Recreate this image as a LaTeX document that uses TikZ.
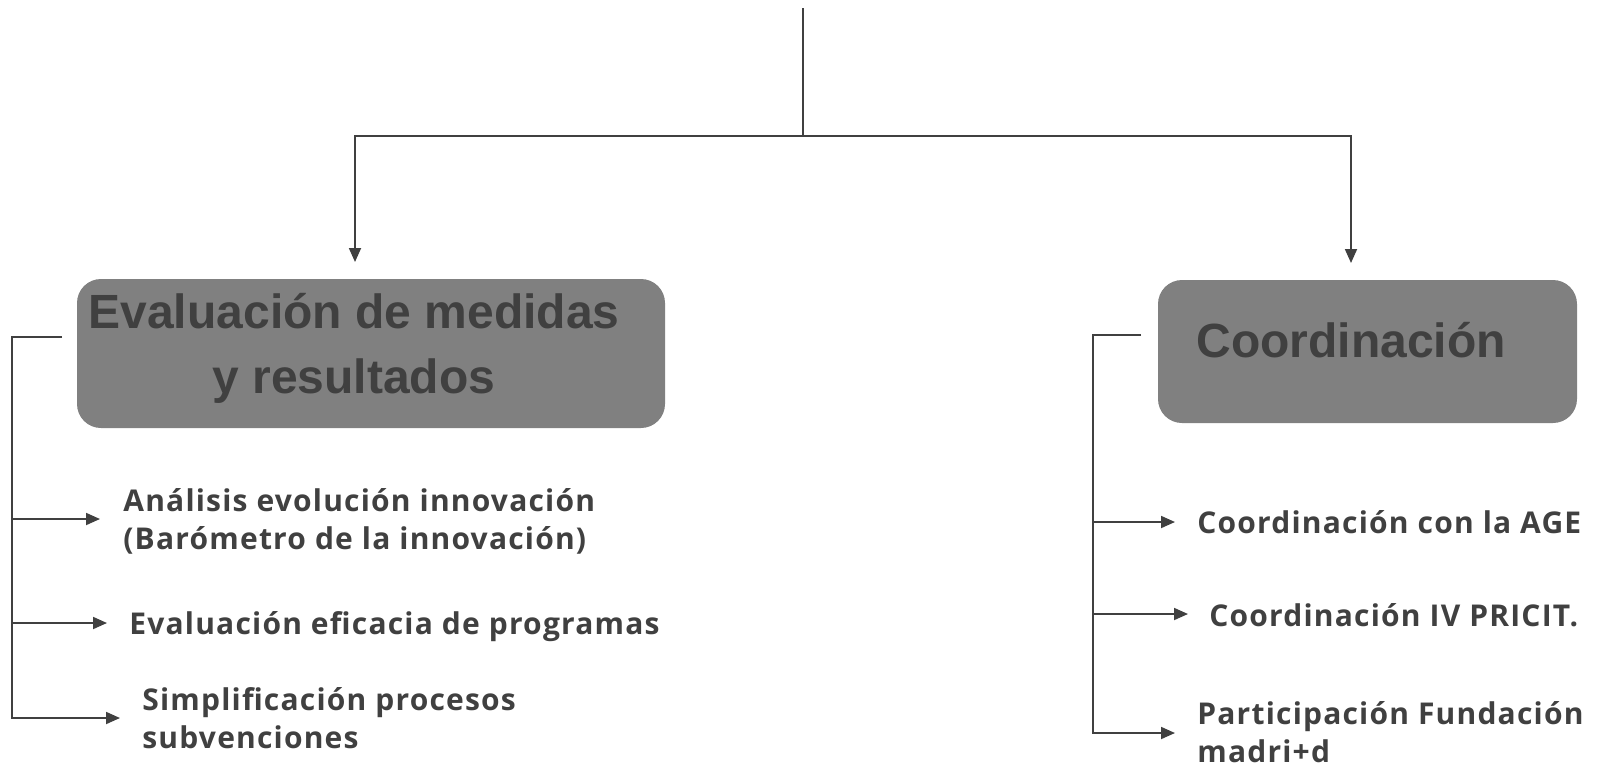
\documentclass[tikz,border=0pt]{standalone}
\usepackage{fontspec}
\setmainfont{Liberation Sans}
\newfontfamily\itemfont[LetterSpace=4]{Open Sans}
\usetikzlibrary{arrows.meta}
\definecolor{ink}{HTML}{404040}
\definecolor{boxgray}{HTML}{808080}
\begin{document}
\begin{tikzpicture}[x=0.5pt,y=-0.5pt,
  conn/.style={draw=ink, line width=0.9pt},
  arr/.style={conn, -{Triangle[length=7pt,width=6pt]}},
  box/.style={fill=boxgray, rounded corners=12pt, inner sep=0pt},
  boxtext/.style={text=ink, font=\bfseries\fontsize{24}{32.5}\selectfont, align=center, inner sep=0pt},
  item/.style={text=ink, font=\itemfont\bfseries\fontsize{15}{19}\selectfont, align=left, anchor=base west, inner sep=0pt}]
\useasboundingbox (0,0) rectangle (1612,767);

% boxes
\node[box, minimum width=294pt, minimum height=74.5pt] (evalbox) at (371,353.5) {};
\node[box, minimum width=209.5pt, minimum height=71.5pt] (coordbox) at (1367.5,351.5) {};
\node[boxtext, anchor=base] (evaltext) at (354,393) {Evaluación de medidas\\ y resultados};
\node[boxtext, anchor=base] (coordtext) at (1351,357) {Coordinación};

% top connectors
\coordinate (top) at (803,8);
\coordinate (junc) at (803,136);
\coordinate (ltip) at (355,262);
\coordinate (rtip) at (1351,263);
\draw[conn] (top) -- (junc);
\draw[arr] (junc) -| (ltip);
\draw[arr] (junc) -| (rtip);

% left items (base = last line baseline)
\node[item] (i1) at (123,549) {Análisis evolución innovación\\(Barómetro de la innovación)};
\node[item] (i2) at (129,634) {Evaluación eficacia de programas};
\node[item] (i3) at (142,748) {Simplificación procesos\\subvenciones};
\coordinate (lb) at (62,337);
\coordinate (lc) at (12,337);
\coordinate (la1) at (12,519);
\coordinate (la2) at (12,623);
\coordinate (la3) at (12,718);
\coordinate (lt1) at (100,519);
\coordinate (lt2) at (107,623);
\coordinate (lt3) at (120,718);
\draw[arr] (lb) -- (lc) -- (la3) -- (lt3);
\draw[arr] (la1) -- (lt1);
\draw[arr] (la2) -- (lt2);

% right items
\node[item] (j1) at (1197,533) {Coordinación con la AGE};
\node[item] (j2) at (1209,626) {Coordinación IV PRICIT.};
\node[item] (j3) at (1197,762) {Participación Fundación\\madri+d};
\coordinate (rb) at (1141,335);
\coordinate (rc) at (1093,335);
\coordinate (ra1) at (1093,522);
\coordinate (ra2) at (1093,614);
\coordinate (ra3) at (1093,733);
\coordinate (rt1) at (1175,522);
\coordinate (rt2) at (1188,614);
\coordinate (rt3) at (1175,733);
\draw[arr] (rb) -- (rc) -- (ra3) -- (rt3);
\draw[arr] (ra1) -- (rt1);
\draw[arr] (ra2) -- (rt2);
\end{tikzpicture}
\end{document}
